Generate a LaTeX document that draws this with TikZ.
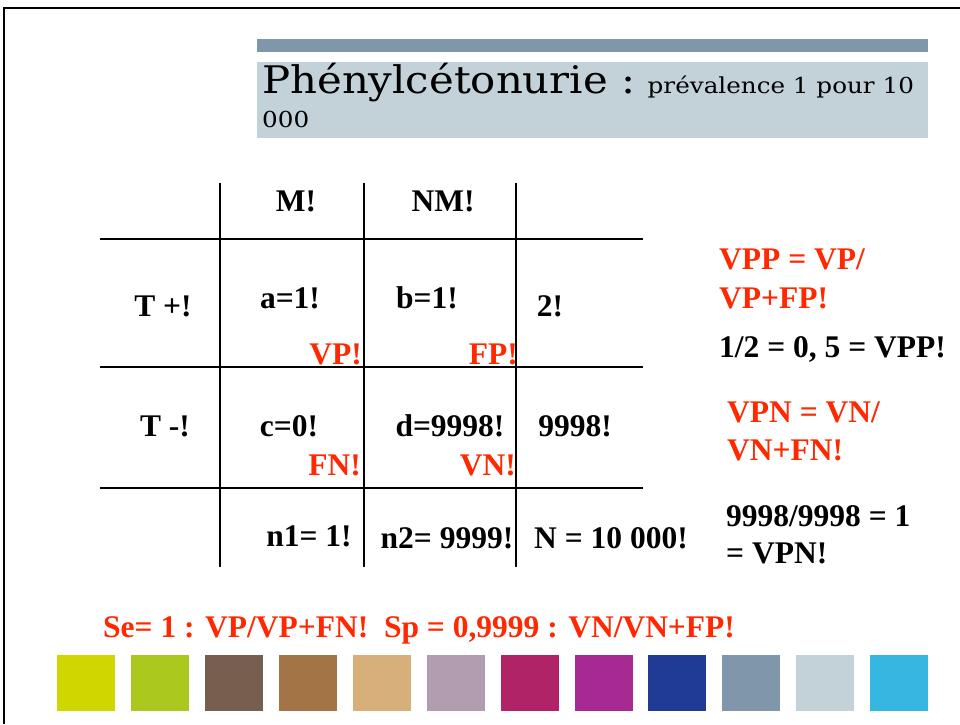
\documentclass[tikz,border=0pt]{standalone}
\usepackage{fontspec}
\setmainfont{Liberation Serif}
\newfontfamily\titlefont{DejaVu Serif}
\usetikzlibrary{positioning}
\definecolor{redtxt}{RGB}{255,40,0}
\definecolor{barblue}{RGB}{128,150,171}
\definecolor{boxgrey}{RGB}{195,210,216}
\definecolor{swA}{RGB}{208,214,0}
\definecolor{swB}{RGB}{170,200,30}
\definecolor{swC}{RGB}{119,95,80}
\definecolor{swD}{RGB}{163,116,70}
\definecolor{swE}{RGB}{214,175,122}
\definecolor{swF}{RGB}{178,157,176}
\definecolor{swG}{RGB}{176,35,103}
\definecolor{swH}{RGB}{166,42,145}
\definecolor{swI}{RGB}{31,59,148}
\definecolor{swJ}{RGB}{128,150,171}
\definecolor{swK}{RGB}{195,210,216}
\definecolor{swL}{RGB}{54,183,226}

\begin{document}
\begin{tikzpicture}[
    x=1pt, y=-1pt,
    cell/.style={font=\bfseries\fontsize{31.5}{36}\selectfont, inner sep=0pt, anchor=base},
    tag/.style={cell, text=redtxt, anchor=base east},
    note/.style={cell, anchor=base west},
    rednote/.style={note, text=redtxt},
    rule/.style={line width=2pt},
    hrule/.style={line width=1.5pt},
    bigtitle/.style={font=\titlefont\fontsize{38}{40}\selectfont, inner sep=0pt, anchor=base west},
    subtitle/.style={font=\titlefont\fontsize{22}{26}\selectfont, inner sep=0pt, anchor=base west},
    swatch/.style={minimum width=58pt, minimum height=56pt, inner sep=0pt, anchor=north west}
]
\useasboundingbox (0,0) rectangle (960,724);

% slide frame
\draw[line width=2pt] (4,724) -- (4,8) -- (960,8);

% title
\fill[barblue] (257,39) rectangle (928,52);
\fill[boxgrey] (257,62) rectangle (928,138);
\node[bigtitle] (title) at (262,93) {\scalebox{1.1}[1]{Phénylcétonurie :}};
\node[subtitle] (prev) at ([xshift=12pt]title.base east) {\scalebox{1.12}[1]{prévalence 1 pour 10}};
\node[subtitle] (prev2) at (262,127) {\scalebox{1.12}[1]{000}};

% table rules
\foreach \x in {220,364,516}
    \draw[rule] (\x,183) -- (\x,567);
\foreach \y in {239,367,488}
    \draw[hrule] (100,\y) -- (643,\y);

% table cells
\node[cell] (hM) at (296,211) {M!};
\node[cell] (hNM) at (443,211) {NM!};

\node[cell] (tplus) at (163,316) {T +!};
\node[cell] (a) at (290,308) {a=1!};
\node[cell] (b) at (427,308) {b=1!};
\node[cell] (row1) at (550,316) {2!};
\node[tag] (vp) at (362,364) {VP!};
\node[tag] (fp) at (518,364) {FP!};

\node[cell] (tminus) at (165,436) {T -!};
\node[cell] (c) at (289,436) {c=0!};
\node[cell] (d) at (450,436) {d=9998!};
\node[cell] (row2) at (575,436) {9998!};
\node[tag] (fn) at (361,475) {FN!};
\node[tag] (vn) at (516,475) {VN!};

\node[cell] (n1) at (309,546) {n1= 1!};
\node[cell] (n2) at (447,548) {n2= 9999!};
\node[cell] (ntot) at (611,548) {N = 10 000!};

% predictive values
\node[rednote] (vpp1) at (719,269) {VPP = VP/};
\node[rednote] (vpp2) at (719,308) {VP+FP!};
\node[note] (vppval) at (719,357) {1/2 = 0, 5 = VPP!};
\node[rednote] (vpn1) at (727,422) {VPN = VN/};
\node[rednote] (vpn2) at (727,460) {VN+FN!};
\node[note] (vpnval1) at (726,526) {9998/9998 = 1};
\node[note] (vpnval2) at (726,563) {= VPN!};

% sensitivity / specificity
\node[rednote] (sesp) at (103,637) {Se= 1 : VP/VP+FN!\ \ Sp = 0,9999 : VN/VN+FP!};

% colour strip
\foreach \c [count=\i from 0] in {swA,swB,swC,swD,swE,swF,swG,swH,swI,swJ,swK,swL}
    \node[swatch, fill=\c] (sw-\i) at ({57+73.9*\i},655) {};

\end{tikzpicture}
\end{document}
